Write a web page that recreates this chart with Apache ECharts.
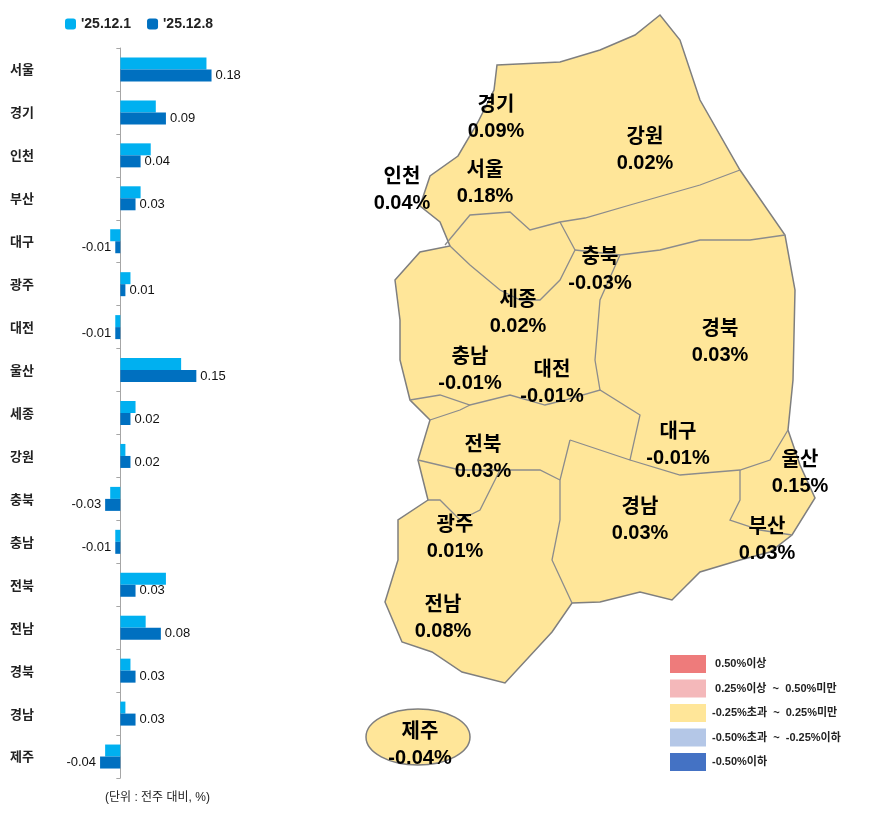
<!DOCTYPE html>
<html lang="ko">
<head>
<meta charset="UTF-8">
<title>주간 아파트 가격 변동률</title>
<script src="https://cdn.jsdelivr.net/npm/echarts@6/dist/echarts.min.js"></script>
<style>
html,body{margin:0;padding:0;background:#fff;}
#main{width:895px;height:813px;}
</style>
</head>
<body>
<div id="main"></div>
<script>
// 지역 및 변동률 데이터
var regions = ['서울','경기','인천','부산','대구','광주','대전','울산','세종','강원','충북','충남','전북','전남','경북','경남','제주'];
var week1 = [0.17,0.07,0.06,0.04,-0.02,0.02,-0.01,0.12,0.03,0.01,-0.02,-0.01,0.09,0.05,0.02,0.01,-0.03];
var week2 = [0.18,0.09,0.04,0.03,-0.01,0.01,-0.01,0.15,0.02,0.02,-0.03,-0.01,0.03,0.08,0.03,0.03,-0.04];
var seriesNames = ["'25.12.1", "'25.12.8"];

// 지도 라벨 (지역명, 위치)
var mapNames = ['경기','강원','인천','서울','충북','세종','경북','충남','대전','대구','전북','울산','경남','부산','광주','전남','제주'];
var mapPos = [[496,118],[645,150],[402,190],[485,183],[600,270],[518,313],[720,342],[470,370],[552,383],[678,445],[483,458],[800,473],[640,520],[767,540],[455,538],[443,618],[420,745]];

var legendColors = ['#EE7B7B','#F4B8BA','#FFE699','#B4C7E7','#4472C4'];
var legendTexts = [' 0.50%이상',' 0.25%이상  ~  0.50%미만','-0.25%초과  ~  0.25%미만','-0.50%초과  ~  -0.25%이하','-0.50%이하'];

var outline = [[497,65],[560,62],[600,50],[635,35],[660,15],[680,40],[700,100],[740,170],[785,235],[795,290],[793,380],[788,430],[800,465],[815,498],[792,535],[770,552],[740,560],[700,572],[672,600],[640,592],[600,602],[572,603],[552,632],[505,683],[462,672],[432,652],[402,642],[385,602],[398,560],[398,520],[428,500],[418,460],[430,420],[410,400],[400,360],[400,320],[395,280],[420,252],[450,246],[440,222],[420,206],[430,176],[458,156],[478,122],[494,90]];
var borders = [
  [[445,245],[470,215],[510,212],[530,230],[560,222],[585,218],[630,205],[700,185],[740,170]],
  [[560,222],[575,250],[560,280],[540,300],[520,300],[500,290],[470,265],[450,246]],
  [[575,250],[620,255],[660,250],[700,240],[750,240],[785,235]],
  [[620,255],[600,300],[595,360],[600,390]],
  [[410,400],[440,395],[470,405],[510,395],[545,405],[565,400],[600,390],[640,415],[630,460],[600,450],[570,440]],
  [[430,420],[460,410],[470,405]],
  [[570,440],[560,480],[560,520],[552,560],[572,603]],
  [[418,460],[460,470],[500,470],[540,470],[560,480]],
  [[630,460],[680,475],[740,470],[770,460],[788,430]],
  [[740,470],[740,500],[730,520],[760,530],[792,535]],
  [[500,470],[480,510],[460,520],[440,500],[428,500]]
];

var numFont = '"Liberation Sans", "Noto Sans CJK KR", sans-serif';
var chart = echarts.init(document.getElementById('main'));

var graphics = [];
// 지도 외곽
graphics.push({type:'polygon', shape:{points:outline}, style:{fill:'#FFE699', stroke:'#7F7F7F', lineWidth:1.5}, z:1});
graphics.push({type:'ellipse', shape:{cx:418, cy:737, rx:52, ry:28}, style:{fill:'#FFE699', stroke:'#7F7F7F', lineWidth:1.5}, z:1});
borders.forEach(function(b){
  graphics.push({type:'polyline', shape:{points:b}, style:{stroke:'#8C8C8C', lineWidth:1.3, fill:null}, z:2});
});
mapNames.forEach(function(n, i){
  var v = week2[regions.indexOf(n)];
  graphics.push({type:'text', x:mapPos[i][0], y:mapPos[i][1], z:5,
    style:{text:n + '\n' + v.toFixed(2) + '%', align:'center', verticalAlign:'middle',
      font:'bold 20px ' + numFont, fill:'#000', lineHeight:26}});
});
legendColors.forEach(function(c, i){
  var y = 655 + i * 24.5;
  graphics.push({type:'rect', shape:{x:670, y:y, width:36, height:18}, style:{fill:c}, z:5});
  graphics.push({type:'text', x:712, y:y + 9, z:5,
    style:{text:legendTexts[i], verticalAlign:'middle', font:'bold 11px ' + numFont, fill:'#222'}});
});
graphics.push({type:'text', x:105, y:798, z:5,
  style:{text:'(단위 : 전주 대비, %)', verticalAlign:'middle', font:'12px ' + numFont, fill:'#222'}});
// 좌측 지역명 (카테고리 라벨)
regions.forEach(function(r, i){
  graphics.push({type:'text', x:10, y:48 + 730 / regions.length * (i + 0.5), z:5,
    style:{text:r, verticalAlign:'middle', font:'bold 13px "Noto Sans CJK KR", sans-serif', fill:'#222'}});
});

var option = {
  animation: false,
  backgroundColor: '#fff',
  legend: {
    data: seriesNames, left: 60, top: 12, itemWidth: 11, itemHeight: 11, itemGap: 16,
    textStyle: {fontSize: 14, fontWeight: 'bold', color: '#222', fontFamily: 'Liberation Sans'}
  },
  grid: {left: 95, width: 152, top: 48, height: 730},
  xAxis: {type: 'value', min: -0.05, max: 0.25, show: false},
  yAxis: {
    type: 'category', data: regions, inverse: true,
    axisLine: {onZero: true, lineStyle: {color: '#A6A6A6'}},
    axisTick: {show: true, length: 4, lineStyle: {color: '#A6A6A6'}},
    axisLabel: {show: false}
  },
  series: [
    {name: seriesNames[0], type: 'bar', data: week1, barWidth: 12, barGap: '0%',
      itemStyle: {color: '#00B0F0'}},
    {name: seriesNames[1], type: 'bar', barWidth: 12,
      data: week2.map(function(v){ return v < 0 ? {value: v, label: {position: 'left'}} : v; }),
      itemStyle: {color: '#0070C0'},
      label: {show: true, position: 'right', distance: 4, color: '#111', fontSize: 13,
        fontFamily: 'Liberation Sans', formatter: function(p){return p.value.toFixed(2);}}}
  ],
  graphic: graphics
};
chart.setOption(option);
</script>
</body>
</html>
